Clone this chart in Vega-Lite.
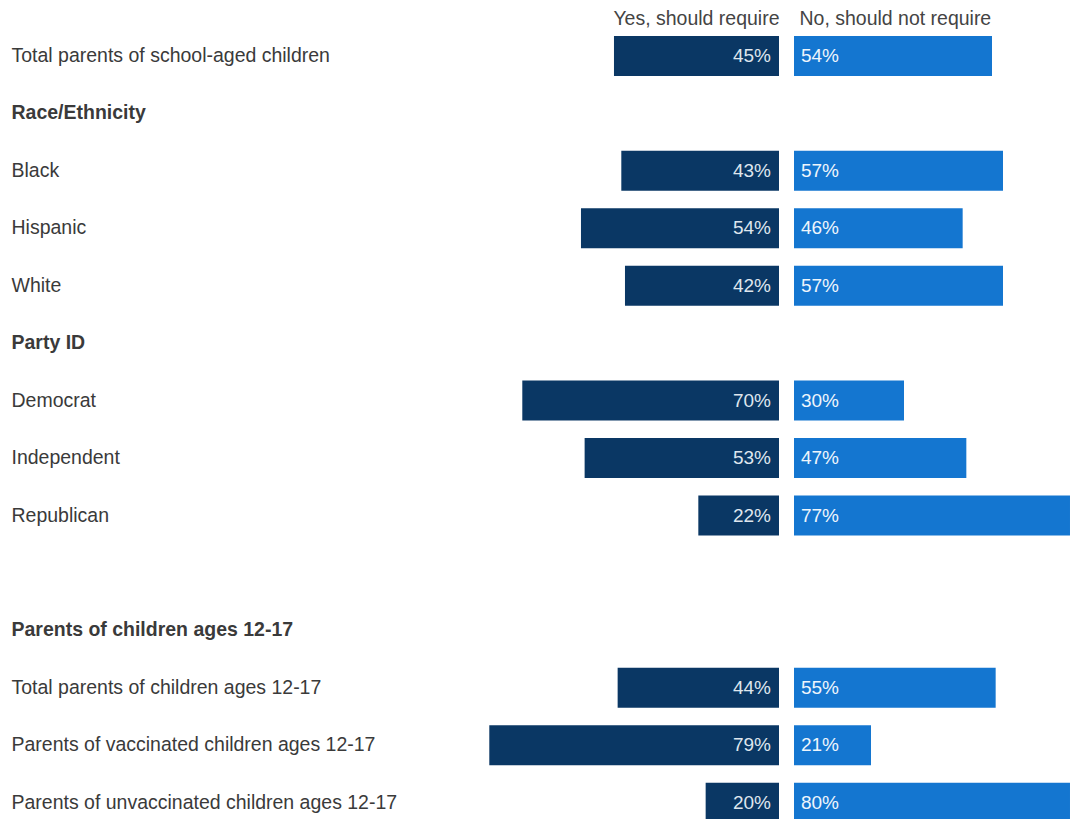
{
  "$schema": "https://vega.github.io/schema/vega-lite/v6.json",
  "background": "white",
  "padding": {"left": 10, "top": 9, "right": 0, "bottom": -7},
  "config": {
    "view": {"stroke": null},
    "font": "Liberation Sans",
    "concat": {"spacing": 15}
  },
  "data": {
    "values": [
      {"label": "Total parents of school-aged children", "yes": 0.45, "no": 0.54},
      {"label": "Race/Ethnicity", "yes": null, "no": null},
      {"label": "Black", "yes": 0.43, "no": 0.57},
      {"label": "Hispanic", "yes": 0.54, "no": 0.46},
      {"label": "White", "yes": 0.42, "no": 0.57},
      {"label": "Party ID", "yes": null, "no": null},
      {"label": "Democrat", "yes": 0.70, "no": 0.30},
      {"label": "Independent", "yes": 0.53, "no": 0.47},
      {"label": "Republican", "yes": 0.22, "no": 0.77},
      {"label": " ", "yes": null, "no": null},
      {"label": "Parents of children ages 12-17", "yes": null, "no": null},
      {"label": "Total parents of children ages 12-17", "yes": 0.44, "no": 0.55},
      {"label": "Parents of vaccinated children ages 12-17", "yes": 0.79, "no": 0.21},
      {"label": "Parents of unvaccinated children ages 12-17", "yes": 0.20, "no": 0.80}
    ]
  },
  "hconcat": [
    {
      "width": 769,
      "height": 792.7,
      "encoding": {
        "y": {
          "field": "label",
          "type": "nominal",
          "scale": {
            "domain": ["Total parents of school-aged children", "Race/Ethnicity", "Black", "Hispanic", "White", "Party ID", "Democrat", "Independent", "Republican", " ", "Parents of children ages 12-17", "Total parents of children ages 12-17", "Parents of vaccinated children ages 12-17", "Parents of unvaccinated children ages 12-17"],
            "paddingInner": 0.3036,
            "paddingOuter": 0.0522,
            "round": false
          },
          "axis": {
            "title": null,
            "orient": "left",
            "domain": false,
            "ticks": false,
            "grid": false,
            "labelAlign": "left",
            "labelBaseline": "middle",
            "labelPadding": -1,
            "labelFontSize": 19.5,
            "labelLimit": 700,
            "labelColor": "#3a3a3a",
            "labelFont": "Liberation Sans",
            "labelFontWeight": {
              "condition": {"test": "indexof(['Race/Ethnicity','Party ID','Parents of children ages 12-17'], datum.value) >= 0", "value": "bold"},
              "value": "normal"
            }
          }
        }
      },
      "layer": [
        {
          "transform": [{"filter": "isValid(datum.yes)"}],
          "mark": {"type": "bar", "color": "#0a3764"},
          "encoding": {
            "x": {
              "field": "yes",
              "type": "quantitative",
              "scale": {"domain": [0, 2.097], "reverse": true, "nice": false, "zero": true},
              "axis": {
                "orient": "top",
                "labels": false,
                "ticks": false,
                "domain": false,
                "grid": false,
                "title": "Yes, should require",
                "titleFontSize": 19.5,
                "titleFontWeight": "normal",
                "titleColor": "#444444",
                "titleFont": "Liberation Sans",
                "titlePadding": 4,
                "titleX": 769,
                "titleAlign": "right"
              }
            },
            "x2": {"datum": 0}
          }
        },
        {
          "transform": [{"filter": "isValid(datum.yes)"}],
          "mark": {"type": "text", "align": "right", "baseline": "middle", "dx": -8, "fontSize": 19, "color": "#dfe6ee", "font": "Liberation Sans"},
          "encoding": {
            "x": {"datum": 0, "type": "quantitative"},
            "text": {"field": "yes", "type": "quantitative", "format": ".0%"}
          }
        }
      ]
    },
    {
      "width": 276,
      "height": 792.7,
      "encoding": {
        "y": {
          "field": "label",
          "type": "nominal",
          "scale": {
            "domain": ["Total parents of school-aged children", "Race/Ethnicity", "Black", "Hispanic", "White", "Party ID", "Democrat", "Independent", "Republican", " ", "Parents of children ages 12-17", "Total parents of children ages 12-17", "Parents of vaccinated children ages 12-17", "Parents of unvaccinated children ages 12-17"],
            "paddingInner": 0.3036,
            "paddingOuter": 0.0522,
            "round": false
          },
          "axis": null
        }
      },
      "layer": [
        {
          "transform": [{"filter": "isValid(datum.no)"}],
          "mark": {"type": "bar", "color": "#1476d0", "clip": true},
          "encoding": {
            "x": {
              "field": "no",
              "type": "quantitative",
              "scale": {"domain": [0, 0.7527], "nice": false, "zero": true},
              "axis": {
                "orient": "top",
                "labels": false,
                "ticks": false,
                "domain": false,
                "grid": false,
                "title": "No, should not require",
                "titleFontSize": 19.5,
                "titleFontWeight": "normal",
                "titleColor": "#444444",
                "titleFont": "Liberation Sans",
                "titlePadding": 4,
                "titleX": 5,
                "titleAlign": "left"
              }
            },
            "x2": {"datum": 0}
          }
        },
        {
          "transform": [{"filter": "isValid(datum.no)"}],
          "mark": {"type": "text", "align": "left", "baseline": "middle", "dx": 7, "fontSize": 19, "color": "#eef5fc", "font": "Liberation Sans"},
          "encoding": {
            "x": {"datum": 0, "type": "quantitative"},
            "text": {"field": "no", "type": "quantitative", "format": ".0%"}
          }
        }
      ]
    }
  ]
}
